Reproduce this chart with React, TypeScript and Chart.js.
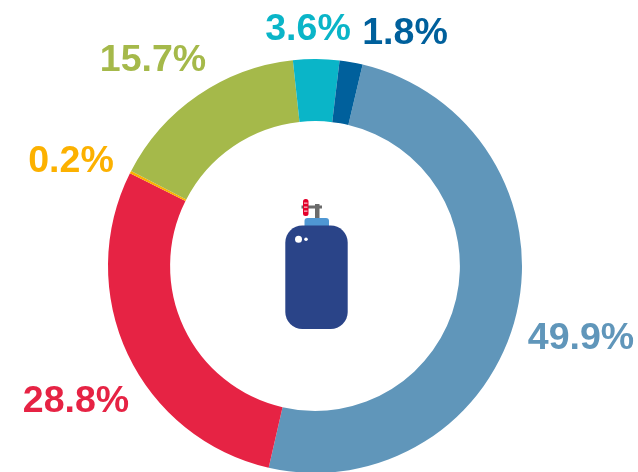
import React, { useEffect, useRef } from "react";
import { Chart, registerables } from "chart.js";

Chart.register(...registerables);

const labels = ["49.9%", "28.8%", "0.2%", "15.7%", "3.6%", "1.8%"];
const values = [49.9, 28.8, 0.2, 15.7, 3.6, 1.8];
const colors = ["#6096BA", "#E62344", "#FCB100", "#A5B94A", "#0AB5C8", "#00609C"];
const labelCentres = [
  [581, 339],
  [76, 402],
  [71, 162],
  [153, 61],
  [308, 30],
  [405, 34],
];

const overlay = {
  id: "overlay",
  afterDraw(chart: any) {
    const c = chart.ctx as CanvasRenderingContext2D;
    c.save();
    c.font = 'bold 37.5px "Liberation Sans", Arial, sans-serif';
    c.textAlign = "center";
    c.textBaseline = "middle";
    labels.forEach((t, i) => {
      c.fillStyle = colors[i];
      c.fillText(t, labelCentres[i][0], labelCentres[i][1]);
    });
    // gas cylinder icon
    c.fillStyle = "#4F97D3";
    c.beginPath();
    c.roundRect(304.5, 218, 24.5, 10, [3, 3, 0, 0]);
    c.fill();
    c.fillStyle = "#2A4488";
    c.beginPath();
    c.roundRect(285.3, 225.5, 62.4, 103.5, 17);
    c.fill();
    c.fillStyle = "#FFFFFF";
    c.beginPath();
    c.arc(298.5, 239.3, 3.5, 0, Math.PI * 2);
    c.fill();
    c.beginPath();
    c.arc(306, 239.2, 1.8, 0, Math.PI * 2);
    c.fill();
    c.fillStyle = "#6B6B6B";
    c.fillRect(315, 204, 4.5, 14);
    c.fillRect(301.5, 205.5, 20.5, 3);
    c.fillStyle = "#E4002B";
    c.beginPath();
    c.roundRect(303, 199, 5.5, 17, 2.5);
    c.fill();
    c.fillStyle = "#F7B5BF";
    [202.5, 206.5, 210.5].forEach((y) => c.fillRect(304, y, 3.5, 1.3));
    c.restore();
  },
};

export default function App() {
  const ref = useRef<HTMLCanvasElement>(null);
  useEffect(() => {
    const chart = new Chart(ref.current!, {
      type: "doughnut",
      data: {
        labels,
        datasets: [{ data: values, backgroundColor: colors, borderWidth: 0 }],
      },
      options: {
        animation: false,
        responsive: false,
        rotation: 13.3,
        cutout: "70%",
        layout: { padding: { left: 108, right: 116, top: 59, bottom: 7 } },
        plugins: { legend: { display: false }, tooltip: { enabled: false } },
      },
      plugins: [overlay],
    });
    return () => chart.destroy();
  }, []);
  return (
    <div style={{ position: "fixed", left: 0, top: 0, width: 638, height: 472, overflow: "hidden", background: "#fff" }}>
      <canvas ref={ref} width={638} height={480} style={{ display: "block" }} />
    </div>
  );
}
